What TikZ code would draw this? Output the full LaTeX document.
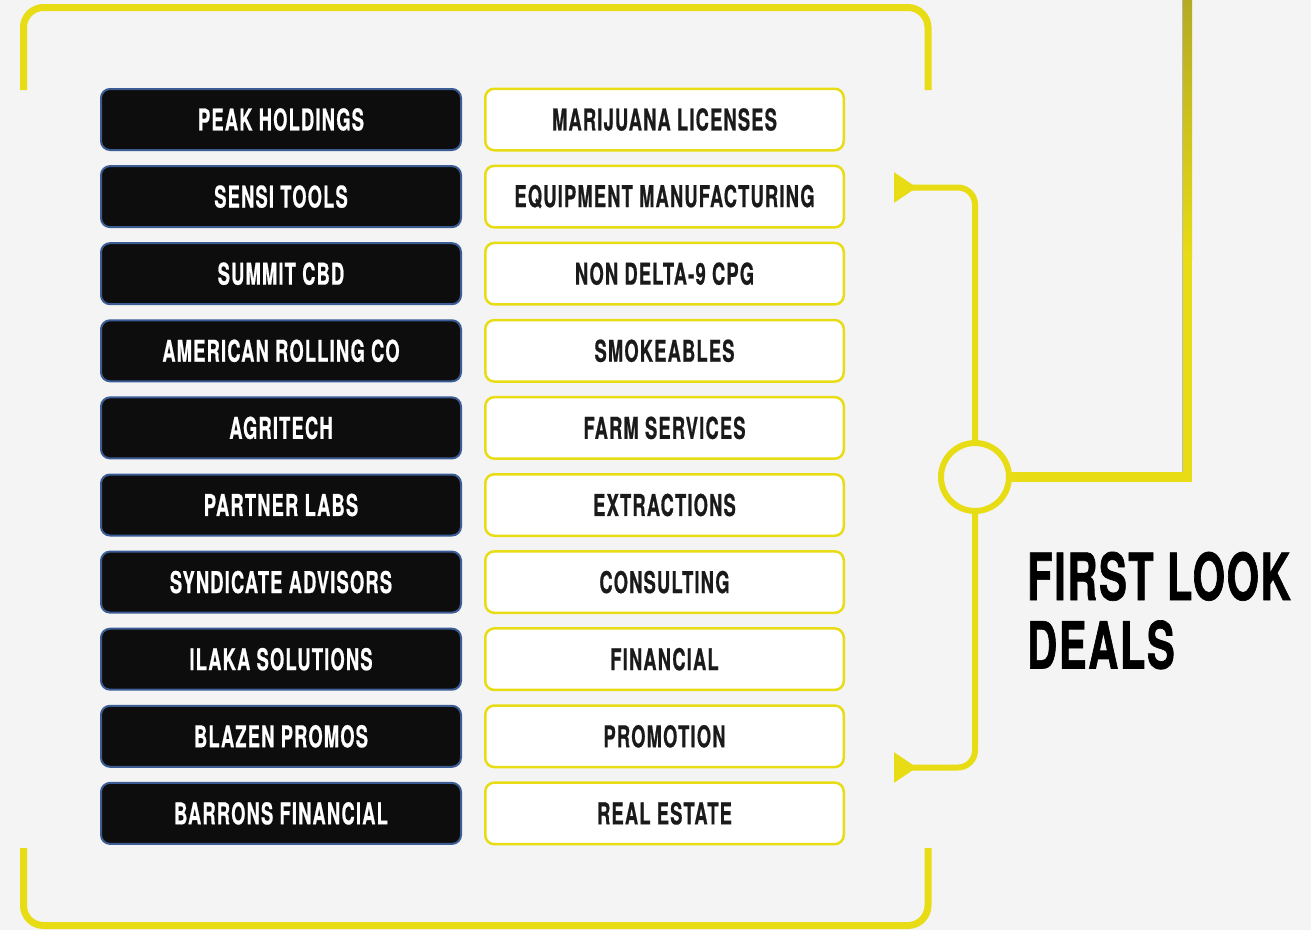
\documentclass[tikz,border=0pt]{standalone}
\usepackage{fontspec}
\usetikzlibrary{arrows.meta}
\newfontfamily\condfont{TeX Gyre Heros}[FakeStretch=0.61,FakeBold=0.6,LetterSpace=4]
\newfontfamily\titlefont{TeX Gyre Heros}[FakeStretch=0.64,FakeBold=1,LetterSpace=2.5]
\definecolor{bg}{HTML}{F4F4F4}
\definecolor{ylw}{HTML}{E8DC15}
\definecolor{olv}{HTML}{B4AB24}
\definecolor{navyb}{HTML}{3B5C94}
\definecolor{blk}{HTML}{0D0D0D}
\definecolor{ink}{HTML}{1A1A1A}
\tikzset{
  boxfont/.style={font=\condfont\bfseries\fontsize{30}{30}\selectfont},
  darkbox/.style={boxfont, draw=navyb, line width=2pt, fill=blk, rounded corners=9pt,
    minimum width=360pt, minimum height=61pt, text=white, inner sep=0pt},
  lightbox/.style={boxfont, draw=ylw, line width=2.5pt, fill=white, rounded corners=9pt,
    minimum width=358.5pt, minimum height=61.5pt, text=ink, inner sep=0pt},
  frameline/.style={draw=ylw, line width=7pt, rounded corners=20pt},
  link/.style={draw=ylw, line width=6pt, rounded corners=17pt},
  headright/.style={-{Triangle[reversed,length=23pt,width=29pt]}},
}
\begin{document}
\begin{tikzpicture}[x=1pt,y=-1pt]
\useasboundingbox[fill=bg] (0,0) rectangle (1311,930);

% frames
\draw[frameline] (23.5,90) -- (23.5,7.5) -- (928,7.5) -- (928,90);
\draw[frameline] (23.5,848) -- (23.5,925.5) -- (928,925.5) -- (928,848);

% rows
\foreach \l/\r [count=\i from 0] in {
  PEAK HOLDINGS/MARIJUANA LICENSES,
  SENSI TOOLS/EQUIPMENT MANUFACTURING,
  SUMMIT CBD/NON DELTA-9 CPG,
  AMERICAN ROLLING CO/SMOKEABLES,
  AGRITECH/FARM SERVICES,
  PARTNER LABS/EXTRACTIONS,
  SYNDICATE ADVISORS/CONSULTING,
  ILAKA SOLUTIONS/FINANCIAL,
  BLAZEN PROMOS/PROMOTION,
  BARRONS FINANCIAL/REAL ESTATE} {
  \node[darkbox] (d\i) at (281,{119.5+77.1*\i}) {\l};
  \node[lightbox] (w\i) at (664.5,{119.5+77.1*\i}) {\r};
}

% hub and connectors
\node[circle, draw=ylw, line width=6pt, minimum size=68pt, inner sep=0pt] (hub) at (975,477) {};
\coordinate (a1) at (894,187.5);
\coordinate (a2) at (894,767.5);
\draw[link, headright] (hub.north) |- (a1);
\draw[link, headright] (hub.south) |- (a2);

\coordinate (topend) at (1187.5,0);
\draw[gray!55, line width=0.8pt] (1182.6,0) -- (1182.6,472.4) -- (1012,472.4);
\draw[draw=ylw, line width=9.5pt] (hub.east) -| (topend);
\shade[top color=olv, bottom color=ylw] (1182.9,0) rectangle (1192.1,260);

% title
\node[anchor=base west, align=left, inner sep=0pt, text=black,
  font=\titlefont\bfseries\fontsize{65}{68.5}\selectfont] (title) at (1027,668.5) {FIRST LOOK\\DEALS};
\end{tikzpicture}
\end{document}
